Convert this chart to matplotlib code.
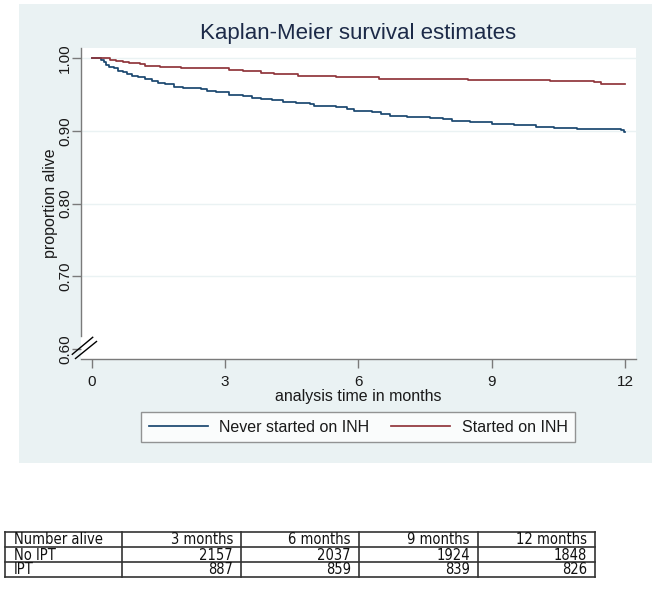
import matplotlib
matplotlib.use("Agg")
import matplotlib.pyplot as plt
from matplotlib.patches import Rectangle
from matplotlib.lines import Line2D

# ---------------- data ----------------
never_t = [0, 0.22, 0.28, 0.33, 0.40, 0.50, 0.60, 0.70, 0.80, 0.90, 1.05, 1.20, 1.35,
           1.50, 1.65, 1.85, 2.05, 2.45, 2.60, 2.80, 3.10, 3.40, 3.60, 3.80, 4.05, 4.30,
           4.60, 4.90, 5.00, 5.50, 5.75, 5.90, 6.30, 6.50, 6.70, 7.10, 7.60, 7.90, 8.10,
           8.50, 9.00, 9.50, 10.00, 10.40, 10.90, 11.60, 11.90, 11.97, 12.0]
never_s = [1.0, 0.998, 0.995, 0.991, 0.988, 0.986, 0.983, 0.981, 0.978, 0.976, 0.974, 0.972,
           0.969, 0.966, 0.964, 0.961, 0.959, 0.958, 0.955, 0.953, 0.950, 0.948, 0.946, 0.944,
           0.942, 0.940, 0.939, 0.937, 0.935, 0.933, 0.930, 0.928, 0.926, 0.923, 0.921, 0.919,
           0.918, 0.916, 0.914, 0.912, 0.910, 0.908, 0.906, 0.904, 0.903, 0.902, 0.901, 0.899,
           0.899]
started_t = [0, 0.42, 0.55, 0.70, 0.85, 1.10, 1.20, 1.55, 2.00, 2.60, 3.10, 3.40, 3.80,
             4.10, 4.65, 5.50, 6.45, 7.00, 8.45, 10.30, 11.30, 11.45, 12.0]
started_s = [1.0, 0.998, 0.996, 0.995, 0.993, 0.992, 0.990, 0.988, 0.987, 0.986, 0.984,
             0.982, 0.980, 0.978, 0.976, 0.974, 0.972, 0.971, 0.970, 0.969, 0.967, 0.965,
             0.965]

labels = ["Never started on INH", "Started on INH"]
x_ticks = [0, 3, 6, 9, 12]
y_ticks = [0.60, 0.70, 0.80, 0.90, 1.00]
y_ticklabels = ["0.60", "0.70", "0.80", "0.90", "1.00"]

table_header = ["Number alive", "3 months", "6 months", "9 months", "12 months"]
table_rows = ["No IPT", "IPT"]
no_ipt_alive = [2157, 2037, 1924, 1848]
ipt_alive = [887, 859, 839, 826]

# ---------------- styling ----------------
W, H = 654, 595
navy = "#1a476f"
maroon = "#90353b"
panel_bg = "#eaf2f3"
axis_col = "#7a7a7a"
text_col = "#1a1a1a"
FONT = "Liberation Sans"

plt.rcParams["font.family"] = [FONT, "DejaVu Sans"]

fig = plt.figure(figsize=(W / 100, H / 100), dpi=100)
fig.patch.set_facecolor("white")

def fx(px):
    return px / W

def fy(py):
    return 1 - py / H

# outer graph panel
panel = Rectangle((fx(19), fy(463)), (652 - 19) / W, (463 - 4) / H,
                  transform=fig.transFigure, facecolor=panel_bg,
                  edgecolor="none", zorder=-10)
fig.add_artist(panel)

ax = fig.add_axes([fx(81), fy(359), (636 - 81) / W, (359 - 48) / H])
ax.set_zorder(2)
ax.set_facecolor("white")
ax.set_xlim(-0.236, 12.236)
ax.set_ylim(0.586, 1.0142)

ax.step(never_t, never_s, where="post", color=navy, lw=1.25, label=labels[0], zorder=3)
ax.step(started_t, started_s, where="post", color=maroon, lw=1.25, label=labels[1], zorder=3)

for v in y_ticks[1:]:
    ax.axhline(v, color=panel_bg, lw=1.0, zorder=1)

for s in ["top", "right"]:
    ax.spines[s].set_visible(False)
for s in ["left", "bottom"]:
    ax.spines[s].set_color(axis_col)
    ax.spines[s].set_linewidth(1.0)
ax.spines["left"].set_bounds(0.617, 1.0142)

ax.set_xticks(x_ticks)
ax.set_xticklabels([str(t) for t in x_ticks], fontsize=11, color=text_col)
ax.set_yticks(y_ticks)
ax.set_yticklabels(y_ticklabels, fontsize=11, color=text_col, rotation=90, va="center")
ax.tick_params(axis="both", colors=axis_col, length=6.5, width=1.0, labelcolor=text_col)
ax.tick_params(axis="x", pad=5)
ax.tick_params(axis="y", pad=0)
ax.set_xlabel("analysis time in months", fontsize=11.5, color=text_col, labelpad=0)
ax.set_ylabel("proportion alive", fontsize=11.5, color=text_col, labelpad=0)

# axis break marks
for (x0, y0, x1, y1) in [(72.3, 354.3, 92.7, 337.3), (75.5, 358.5, 96.5, 341.5)]:
    fig.add_artist(Line2D([fx(x0), fx(x1)], [fy(y0), fy(y1)], transform=fig.transFigure,
                          color="black", lw=1.0, zorder=5))

fig.text(fx(358), fy(33), "Kaplan-Meier survival estimates", fontsize=16,
         color="#1c2a48", ha="center", va="center")

leg = fig.legend(loc="center", bbox_to_anchor=(fx(358), fy(427)), ncol=2,
                 fontsize=11.5, frameon=True, fancybox=False, edgecolor=axis_col,
                 handlelength=3.7, handletextpad=0.7, columnspacing=1.4,
                 borderpad=0.45)
leg.get_frame().set_linewidth(1.0)
leg.set_zorder(5)
for t in leg.get_texts():
    t.set_color(text_col)

# ---------------- table ----------------
col_x = [5, 122, 241, 359, 478, 595]
row_y = [532, 547, 562, 577]
tcol = "#333333"
for x in col_x:
    fig.add_artist(Line2D([fx(x), fx(x)], [fy(row_y[0]), fy(row_y[-1])],
                          transform=fig.transFigure, color=tcol, lw=1.2))
for y in row_y:
    fig.add_artist(Line2D([fx(col_x[0]), fx(col_x[-1])], [fy(y), fy(y)],
                          transform=fig.transFigure, color=tcol, lw=1.2))

rows = [table_header,
        [table_rows[0]] + [str(v) for v in no_ipt_alive],
        [table_rows[1]] + [str(v) for v in ipt_alive]]
tfont = dict(family=["DejaVu Sans"], fontstretch="condensed", fontsize=10.5, color="#111111")
for r, row in enumerate(rows):
    yb = row_y[r + 1] - 2.5
    for c, cell in enumerate(row):
        if c == 0:
            fig.text(fx(col_x[0] + 9), fy(yb), cell, ha="left", va="baseline", **tfont)
        else:
            fig.text(fx(col_x[c + 1] - 8), fy(yb), cell, ha="right", va="baseline", **tfont)

fig.savefig("out.png", dpi=100)
